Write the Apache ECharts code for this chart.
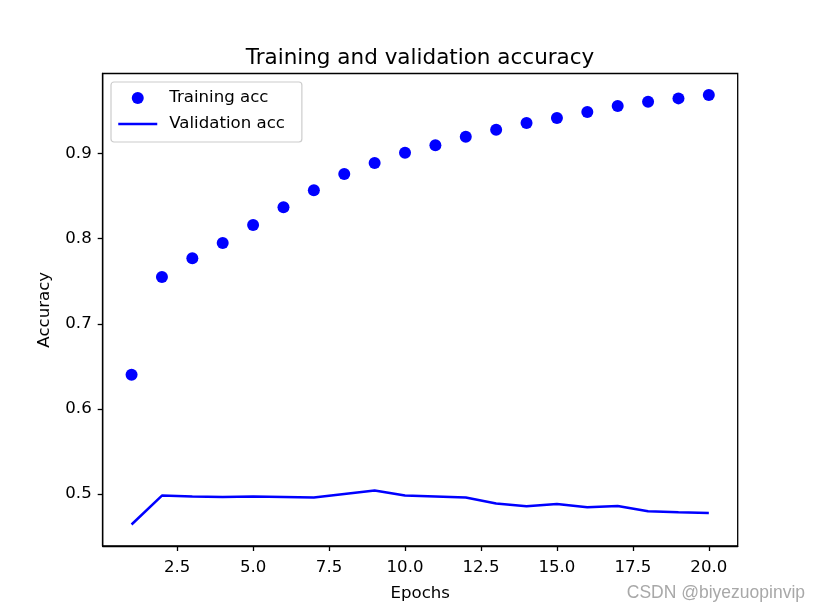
<!DOCTYPE html>
<html>
<head>
<meta charset="utf-8">
<script src="https://cdn.jsdelivr.net/npm/echarts@6/dist/echarts.min.js"></script>
<style>
html,body{margin:0;padding:0;background:#fff;}
#chart{width:819px;height:614px;}
</style>
</head>
<body>
<div id="chart"></div>
<script>
const epochs = [1,2,3,4,5,6,7,8,9,10,11,12,13,14,15,16,17,18,19,20];
const trainingAcc = [0.640,0.755,0.777,0.795,0.816,0.837,0.857,0.876,0.889,0.901,0.910,0.920,0.928,0.936,0.942,0.949,0.956,0.961,0.965,0.969];
const validationAcc = [0.464,0.498,0.497,0.4965,0.497,0.4965,0.4957,0.500,0.504,0.498,0.497,0.4957,0.4886,0.4854,0.4882,0.4843,0.4859,0.4796,0.4784,0.4776];
const xTicks = [2.5,5.0,7.5,10.0,12.5,15.0,17.5,20.0];
const yTicks = [0.5,0.6,0.7,0.8,0.9];

const FONT = 'DejaVu Sans';
const chart = echarts.init(document.getElementById('chart'), null, {renderer:'canvas'});
chart.setOption({
  animation: false,
  backgroundColor: '#fff',
  textStyle: {fontFamily: FONT},
  title: {
    text: 'Training and validation accuracy',
    left: 415, top: 42, textAlign: 'center',
    textStyle: {fontFamily: FONT, fontSize: 21.5, fontWeight: 'normal', color: '#000'}
  },
  legend: {
    orient: 'vertical', left: 111, top: 82,
    itemWidth: 39, itemHeight: 12, itemGap: 6,
    padding: [6, 17, 8, 6],
    backgroundColor: 'rgba(255,255,255,0.8)',
    borderColor: '#cccccc', borderWidth: 1.2, borderRadius: 3,
    textStyle: {fontFamily: FONT, fontSize: 16.6, color: '#000', lineHeight: 20, padding: [0,0,0,7]},
    data: [
      {name:'Training acc', icon:'circle', itemStyle: {color: '#0000ff', opacity: 1}},
      {name:'Validation acc', itemStyle: {color: 'rgba(0,0,0,0)', borderWidth: 0, opacity: 0}, lineStyle: {color: '#0000ff', width: 2.5}}
    ]
  },
  grid: {left: 102.7, right: 81.3, top: 73.5, bottom: 68, show: true, borderColor: '#000', borderWidth: 1.3, backgroundColor: 'transparent'},
  xAxis: {
    type: 'value', min: 0.05, max: 20.95,
    name: 'Epochs', nameLocation: 'middle', nameGap: 39,
    nameTextStyle: {fontFamily: FONT, fontSize: 16.6, color: '#000'},
    axisLine: {show: true, lineStyle: {color: '#000', width: 1.3}},
    axisTick: {show: true, length: 5, customValues: xTicks, lineStyle: {color: '#000', width: 1.3}},
    axisLabel: {customValues: xTicks, margin: 13, color: '#000', fontFamily: FONT, fontSize: 16.6, formatter: v => v.toFixed(1)},
    splitLine: {show: false}
  },
  yAxis: {
    type: 'value', min: 0.43875, max: 0.99425,
    name: 'Accuracy', nameLocation: 'middle', nameGap: 50, nameRotate: 90,
    nameTextStyle: {fontFamily: FONT, fontSize: 16.6, color: '#000'},
    axisLine: {show: true, lineStyle: {color: '#000', width: 1.3}},
    axisTick: {show: true, length: 5, customValues: yTicks, lineStyle: {color: '#000', width: 1.3}},
    axisLabel: {customValues: yTicks, margin: 11, color: '#000', fontFamily: FONT, fontSize: 16.6, formatter: v => v.toFixed(1)},
    splitLine: {show: false}
  },
  series: [
    {
      name: 'Training acc', type: 'scatter', symbol: 'circle', symbolSize: 12,
      itemStyle: {color: '#0000ff', opacity: 1},
      data: epochs.map((e,i) => [e, trainingAcc[i]])
    },
    {
      name: 'Validation acc', type: 'line', symbol: 'none', showSymbol: false,
      lineStyle: {color: '#0000ff', width: 2.5}, itemStyle: {color: '#0000ff'},
      data: epochs.map((e,i) => [e, validationAcc[i]])
    }
  ],
  graphic: [{
    type: 'text', right: 14, top: 584,
    style: {text: 'CSDN @biyezuopinvip', fontFamily: 'Liberation Sans', fontSize: 17.5, fill: '#a8a8a8', stroke: 'rgba(255,255,255,0.6)', lineWidth: 0}
  }]
});
</script>
</body>
</html>
